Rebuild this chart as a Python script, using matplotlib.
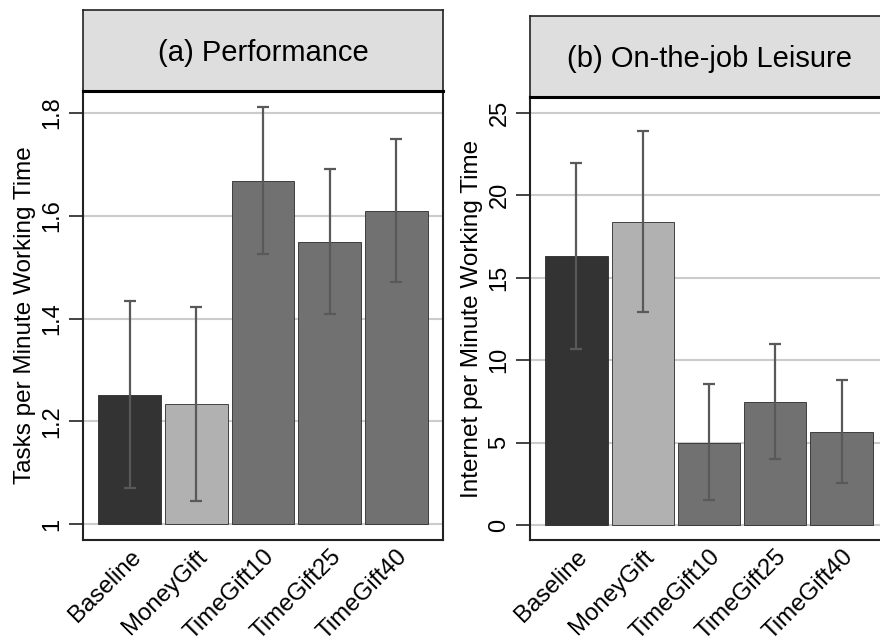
import numpy as np
import matplotlib.pyplot as plt

plt.rcParams['font.family'] = ['Liberation Sans', 'DejaVu Sans']

groups = ['Baseline', 'MoneyGift', 'TimeGift10', 'TimeGift25', 'TimeGift40']
colors = ['#333333', '#b1b1b1', '#717171', '#717171', '#717171']

# (a) tasks per minute of working time
perf_mean = [1.252, 1.234, 1.667, 1.550, 1.609]
perf_lo = [1.071, 1.044, 1.526, 1.409, 1.472]
perf_hi = [1.435, 1.422, 1.811, 1.692, 1.749]

# (b) internet use per minute of working time
leis_mean = [16.30, 18.38, 5.00, 7.48, 5.63]
leis_lo = [10.65, 12.93, 1.53, 4.01, 2.54]
leis_hi = [21.95, 23.89, 8.55, 10.97, 8.81]

W, H = 880, 643
fig = plt.figure(figsize=(W / 100, H / 100), dpi=100)


def px(x0, y0, x1, y1):
    return [x0 / W, 1 - y1 / H, (x1 - x0) / W, (y1 - y0) / H]


def panel(rect_plot, rect_head, title, mean, lo, hi, base, ylim, yticks, ylabels, ylabel):
    hax = fig.add_axes(rect_head)
    hax.set_facecolor('#dedede')
    hax.set_xticks([])
    hax.set_yticks([])
    for s in hax.spines.values():
        s.set_linewidth(1.2)
        s.set_color('#222222')
    hax.text(0.5, 0.47, title, ha='center', va='center', fontsize=21,
             transform=hax.transAxes)

    ax = fig.add_axes(rect_plot)
    x = np.arange(len(groups))
    mean = np.array(mean)
    err = [mean - np.array(lo), np.array(hi) - mean]
    ax.bar(x, mean - base, bottom=base, width=0.94, color=colors,
           edgecolor='#2a2a2a', linewidth=0.6, zorder=2)
    ax.errorbar(x, mean, yerr=err, fmt='none', ecolor='#595959',
                elinewidth=1.6, capsize=4.5, capthick=1.6, zorder=3)
    ax.set_xlim(-0.7, 4.7)
    ax.set_ylim(*ylim)
    ax.set_yticks(yticks)
    ax.set_yticklabels(ylabels, rotation=90, va='center', fontsize=17)
    ax.set_xticks(x)
    ax.set_xticklabels(groups, rotation=45, ha='right', va='top',
                       rotation_mode='anchor', fontsize=17.3)
    ax.tick_params(axis='x', length=0, pad=4)
    ax.tick_params(axis='y', length=10, width=1.2, color='#222222', pad=4)
    ax.grid(axis='y', color='#cccccc', linewidth=1.5, zorder=0)
    ax.set_axisbelow(True)
    for s in ax.spines.values():
        s.set_linewidth(1.5)
        s.set_color('#222222')
    ax.spines['top'].set_linewidth(2.2)
    ax.spines['top'].set_color('black')
    ax.set_ylabel(ylabel, fontsize=17.5, labelpad=4)
    return ax


panel(px(83, 91, 443, 540), px(83, 10, 443, 91), '(a) Performance',
      perf_mean, perf_lo, perf_hi, 1.0, (0.969, 1.843),
      [1, 1.2, 1.4, 1.6, 1.8], ['1', '1.2', '1.4', '1.6', '1.8'],
      'Tasks per Minute Working Time')

panel(px(530, 97, 888, 540), px(530, 16, 888, 97), '(b) On-the-job Leisure',
      leis_mean, leis_lo, leis_hi, 0.0, (-0.89, 25.94),
      [0, 5, 10, 15, 20, 25], ['0', '5', '10', '15', '20', '25'],
      'Internet per Minute Working Time')

fig.savefig('out.png', dpi=100)
